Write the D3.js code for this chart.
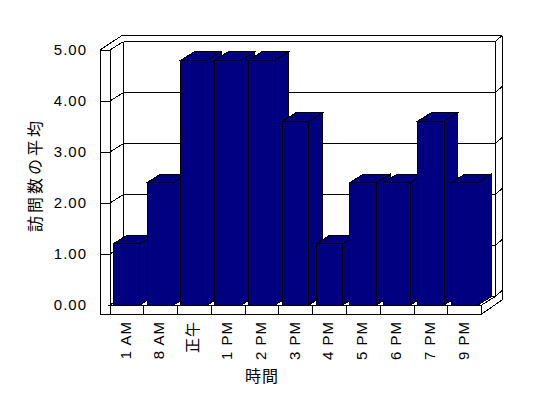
<!DOCTYPE html>
<html lang="ja">
<head>
  <meta charset="UTF-8" />
  <title>訪問数の平均</title>
  <script src="https://d3js.org/d3.v7.min.js"></script>
  <style>
    body { margin: 0; background: #fff; }
    svg { display: block; }
    text { font-family: "Liberation Sans", "Noto Sans CJK JP", sans-serif; fill: #000; }
  </style>
</head>
<body>
  <svg width="548" height="398"></svg>
  <script>
    // data
    const categories = ["1 AM", "8 AM", "正午", "1 PM", "2 PM", "3 PM", "4 PM", "5 PM", "6 PM", "7 PM", "9 PM"];
    const visits = [1.2, 2.4, 4.8, 4.8, 4.8, 3.6, 1.2, 2.4, 2.4, 3.6, 2.4];
    const yTicks = [0, 1, 2, 3, 4, 5];

    const svg = d3.select("svg");

    // front plane of the plot box and the depth offset
    const plotLeft = 110, plotRight = 481.7, plotTop = 50, plotBottom = 305;
    const DX = 13.5, DY = -8.5;       // depth of the plot box
    const WX = 6.8, WY = -5.8;        // extra thickness of back/right wall
    const navy = "#000080";

    const x = d3.scaleBand().domain(categories).range([plotLeft, plotRight]).padding(0);
    const y = d3.scaleLinear().domain([0, 5]).range([plotBottom, plotTop]);

    const g = svg.append("g").attr("shape-rendering", "crispEdges");
    const line = (x1, y1, x2, y2) => g.append("line")
      .attr("x1", x1).attr("y1", y1).attr("x2", x2).attr("y2", y2)
      .attr("stroke", "#000").attr("stroke-width", 1);
    const poly = (pts, fill) => g.append("polygon")
      .attr("points", pts.map(p => p.join(",")).join(" "))
      .attr("fill", fill).attr("stroke", "#000").attr("stroke-width", 1);

    // left wall front face
    poly([[100, plotTop], [plotLeft, plotTop], [plotLeft, plotBottom + 9], [100, plotBottom + 9]], "#fff");

    // outer outline of the box
    line(100, plotTop, 121.7, plotTop + DY + WY);
    line(121.7, plotTop + DY + WY, plotRight + DX + WX, plotTop + DY + WY);
    line(plotRight + DX + WX, plotTop + DY + WY, plotRight + DX + WX, plotBottom + DY + 3.5);
    line(plotRight + DX + WX, plotBottom + DY + 3.5, plotRight, plotBottom + 9);

    // back wall edges
    line(plotLeft + DX, plotTop + DY, plotLeft + DX, plotBottom + DY);
    line(plotRight + DX, plotTop + DY, plotRight + DX, plotBottom + DY);

    // gridlines: tick on the side wall, diagonal, back wall line, right wall stub
    yTicks.forEach(v => {
      const yy = y(v);
      if (v > 0) line(100, yy, plotLeft, yy);
      line(plotLeft, yy, plotLeft + DX, yy + DY);
      line(plotLeft + DX, yy + DY, plotRight + DX, yy + DY);
      line(plotRight + DX, yy + DY, plotRight + DX + WX, yy + DY + WY);
    });

    // floor top
    poly([[plotLeft, plotBottom], [plotRight, plotBottom], [plotRight + DX, plotBottom + DY], [plotLeft + DX, plotBottom + DY]], "#fff");

    // bars
    const bx = c => x(c) + 3.3;
    const bw = x.bandwidth() * 0.79;
    categories.forEach((c, i) => {
      const x0 = bx(c), x1 = x0 + bw, yt = y(visits[i]);
      poly([[x1, plotBottom], [x1, yt], [x1 + DX, yt + DY], [x1 + DX, plotBottom + DY]], navy);
      poly([[x0, yt], [x0 + DX, yt + DY], [x1 + DX, yt + DY], [x1, yt]], navy);
      poly([[x0, yt], [x1, yt], [x1, plotBottom], [x0, plotBottom]], navy);
    });

    // floor front face with category dividers
    poly([[plotLeft, plotBottom], [plotRight, plotBottom], [plotRight, plotBottom + 9], [plotLeft, plotBottom + 9]], "#fff");
    categories.forEach(c => line(x(c) + x.bandwidth(), plotBottom, x(c) + x.bandwidth(), plotBottom + 9));

    // y tick labels
    svg.append("g").selectAll("text")
      .data(yTicks)
      .join("text")
      .attr("x", 87)
      .attr("y", d => y(d))
      .attr("dy", "0.35em")
      .attr("text-anchor", "end")
      .style("font-size", "15px")
      .style("letter-spacing", "1px")
      .text(d3.format(".2f"));

    // x tick labels (rotated)
    svg.append("g").selectAll("text")
      .data(categories)
      .join("text")
      .attr("transform", d => `translate(${x(d) + x.bandwidth() / 2 - 1.5},321) rotate(-90)`)
      .attr("text-anchor", "end")
      .attr("dy", "0.35em")
      .style("font-size", "15px")
      .style("letter-spacing", "1px")
      .text(d => d);

    // axis titles
    svg.append("text")
      .attr("transform", "translate(35,175) rotate(-90)")
      .attr("text-anchor", "middle")
      .attr("dy", "0.35em")
      .style("font-size", "16px")
      .style("letter-spacing", "3px")
      .text("訪問数の平均");

    svg.append("text")
      .attr("x", 262)
      .attr("y", 376)
      .attr("text-anchor", "middle")
      .attr("dy", "0.35em")
      .style("font-size", "16px")
      .style("letter-spacing", "1px")
      .text("時間");
  </script>
</body>
</html>
